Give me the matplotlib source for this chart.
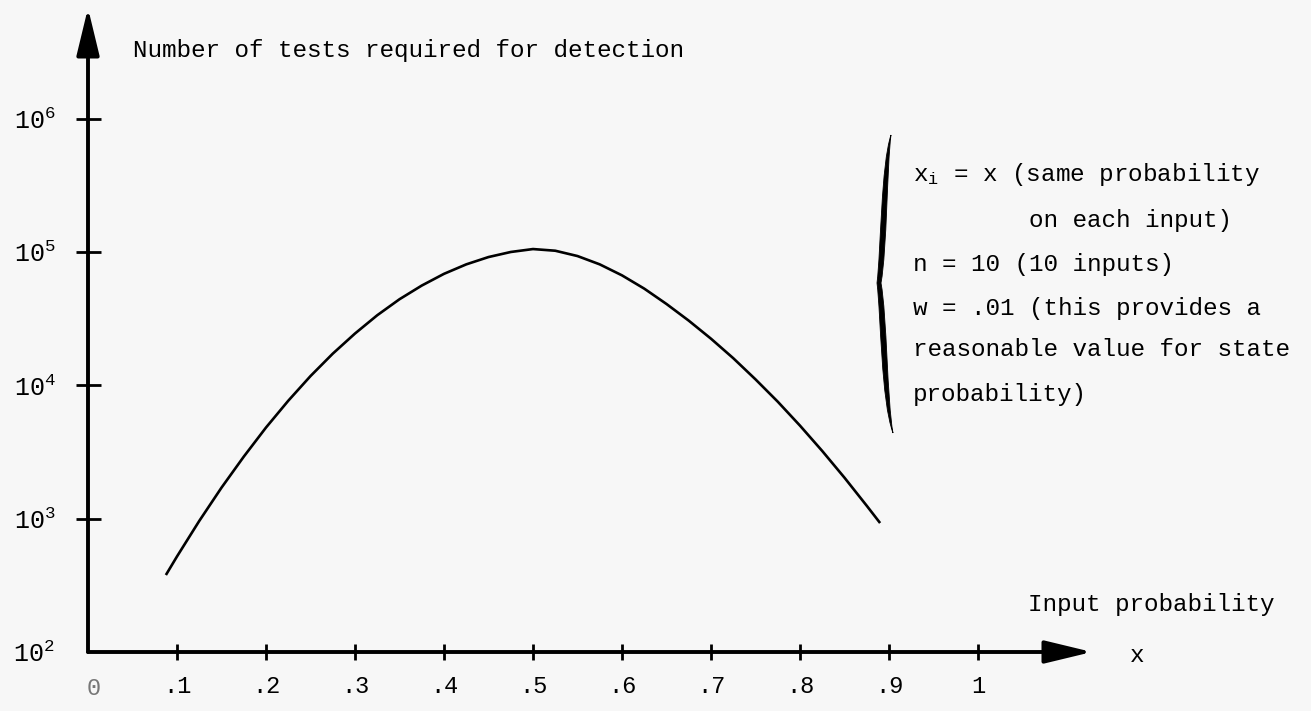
import matplotlib
matplotlib.use("Agg")
import matplotlib.pyplot as plt
from matplotlib.path import Path
from matplotlib.patches import PathPatch

# curve: input probability vs number of tests
prob = [0.0875, 0.100, 0.125, 0.150, 0.175, 0.200, 0.225, 0.250, 0.275,
        0.300, 0.325, 0.350, 0.375, 0.400, 0.425, 0.450, 0.475, 0.500,
        0.525, 0.550, 0.575, 0.600, 0.625, 0.650, 0.675, 0.700, 0.725,
        0.750, 0.775, 0.800, 0.825, 0.850, 0.875, 0.890]
tests = [378, 521, 962, 1710, 2920, 4830, 7670, 11750, 17300,
         24500, 33600, 44300, 56100, 68700, 80900, 91800, 100200, 105400,
         102400, 93400, 80900, 66900, 53200, 40800, 30600, 22400, 16000,
         11100, 7550, 4990, 3220, 2030, 1250, 928]

x_ticks = [.1, .2, .3, .4, .5, .6, .7, .8, .9, 1.0]
x_labels = [".1", ".2", ".3", ".4", ".5", ".6", ".7", ".8", ".9", "1"]
y_ticks = [1e3, 1e4, 1e5, 1e6]
y_labels = [r"$\mathregular{10^{3}}$", r"$\mathregular{10^{4}}$",
            r"$\mathregular{10^{5}}$", r"$\mathregular{10^{6}}$"]

notes = [
    r"$\mathregular{x_{i}}$ = x (same probability",
    "        on each input)",
    "n = 10 (10 inputs)",
    "w = .01 (this provides a",
    "reasonable value for state",
    "probability)",
]
note_y = [175, 220, 265, 308, 350, 395]

W, H = 1311, 711
BG = "#f7f7f7"
plt.rcParams["font.family"] = ["Liberation Mono", "DejaVu Sans Mono"]
plt.rcParams["mathtext.fontset"] = "custom"
plt.rcParams["mathtext.rm"] = "Liberation Mono"

fig = plt.figure(figsize=(W / 100, H / 100), dpi=100, facecolor=BG)


def fx(px):
    return px / W


def fy(py):
    return 1 - py / H


# axes origin at pixel (88, 652), arrows run to x=1090 and y=8
ax = fig.add_axes([fx(88), fy(652), (1092 - 88) / W, (652 - 8) / H])
ax.set_facecolor("none")
ax.set_yscale("log")
ax.set_xlim(0, (1092 - 88) / 890)
ax.set_ylim(1e2, 10 ** (2 + 644 / 133.3))
for s in ax.spines.values():
    s.set_visible(False)

ax.plot(prob, tests, color="black", lw=1.9, solid_capstyle="butt",
        solid_joinstyle="round")

arrow = dict(arrowstyle="-|>,head_length=2.9,head_width=0.7",
             mutation_scale=10, lw=2.8, color="black",
             shrinkA=0, shrinkB=0)
ax.annotate("", xy=(1, 0), xytext=(0, 0), xycoords="axes fraction",
            arrowprops=arrow)
ax.annotate("", xy=(0, 1), xytext=(0, 0), xycoords="axes fraction",
            arrowprops=arrow)

ax.set_xticks(x_ticks)
ax.set_xticklabels(x_labels)
ax.set_xticks([0.006], minor=True)
ax.set_xticklabels(["0"], minor=True, color="#777777")
ax.set_yticks(y_ticks)
ax.set_yticklabels(y_labels)
ax.set_yticks([1e2], minor=True)
ax.set_yticklabels([r"$\mathregular{10^{2}}$"], minor=True)

ax.tick_params(axis="x", which="major", direction="inout", length=11,
               width=2, pad=11, labelsize=17)
ax.tick_params(axis="y", which="major", direction="inout", length=18,
               width=2, pad=14, labelsize=18)
ax.tick_params(axis="x", which="minor", length=0, pad=18, labelsize=17)
ax.tick_params(axis="y", which="minor", length=0, pad=24, labelsize=18)

fig.text(fx(133), fy(50), "Number of tests required for detection",
         fontsize=17.5, va="center", ha="left")
fig.text(fx(1028), fy(605), "Input probability", fontsize=17.5,
         va="center", ha="left")
fig.text(fx(1137), fy(655), "x", fontsize=17.5, va="center", ha="center")

for line, yy in zip(notes, note_y):
    fig.text(fx(913), fy(yy), line, fontsize=17.5, va="center", ha="left")

# curly brace in front of the notes
pts = [(891, 135), (881, 165), (881, 250), (877, 283),
       (881, 316), (881, 400), (893, 433),
       (887, 400), (887, 316), (881, 283),
       (887, 250), (887, 165), (891, 135), (891, 135)]
codes = [Path.MOVETO] + [Path.CURVE4] * 12 + [Path.CLOSEPOLY]
brace = Path([(fx(a), fy(b)) for a, b in pts], codes)
fig.add_artist(PathPatch(brace, transform=fig.transFigure,
                         facecolor="black", edgecolor="black", lw=0.6))

fig.savefig("out.png", dpi=100, facecolor=BG)
